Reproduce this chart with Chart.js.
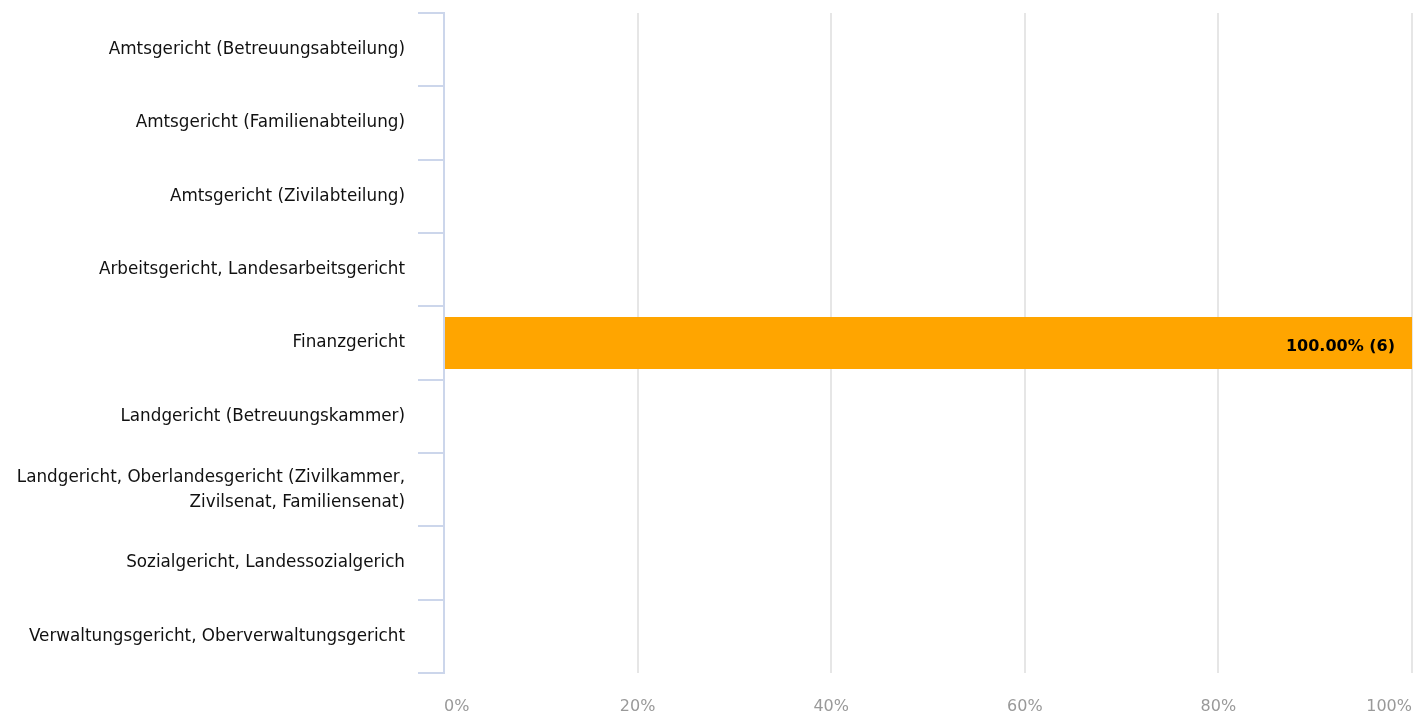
<!DOCTYPE html>
<html>
<head>
<meta charset="utf-8">
<script src="https://cdn.jsdelivr.net/npm/chart.js@4/dist/chart.umd.min.js"></script>
<style>
  html, body { margin: 0; padding: 0; background: #fff; }
  #wrap { width: 1414px; height: 715px; }
</style>
</head>
<body>
<div id="wrap"><canvas id="courtChart"></canvas></div>
<script>
const categories = [
  'Amtsgericht (Betreuungsabteilung)',
  'Amtsgericht (Familienabteilung)',
  'Amtsgericht (Zivilabteilung)',
  'Arbeitsgericht, Landesarbeitsgericht',
  'Finanzgericht',
  'Landgericht (Betreuungskammer)',
  ['Landgericht, Oberlandesgericht (Zivilkammer,', 'Zivilsenat, Familiensenat)'],
  'Sozialgericht, Landessozialgerich',
  'Verwaltungsgericht, Oberverwaltungsgericht'
];
const counts = [0, 0, 0, 0, 6, 0, 0, 0, 0];
const percents = [0, 0, 0, 0, 100, 0, 0, 0, 0];
const xTicks = [0, 20, 40, 60, 80, 100];

const FONT = 'DejaVu Sans';

// draws "100.00% (6)" inside the end of each non-empty bar
const barLabels = {
  id: 'barLabels',
  afterDatasetsDraw(chart) {
    const ctx = chart.ctx;
    const meta = chart.getDatasetMeta(0);
    ctx.save();
    ctx.font = 'bold 16px "' + FONT + '"';
    ctx.fillStyle = '#000';
    ctx.textAlign = 'right';
    ctx.textBaseline = 'middle';
    meta.data.forEach((bar, i) => {
      if (!percents[i]) return;
      ctx.fillText(percents[i].toFixed(2) + '% (' + counts[i] + ')', bar.x - 17, bar.y + 4);
    });
    ctx.restore();
  }
};

new Chart(document.getElementById('courtChart'), {
  type: 'bar',
  data: {
    labels: categories,
    datasets: [{
      data: percents,
      backgroundColor: '#ffa500',
      borderWidth: 0,
      barPercentage: 0.71,
      categoryPercentage: 1
    }]
  },
  options: {
    indexAxis: 'y',
    responsive: true,
    maintainAspectRatio: false,
    animation: false,
    layout: { padding: { top: 13, left: 0, right: 2, bottom: 0 } },
    plugins: {
      legend: { display: false },
      tooltip: { enabled: false }
    },
    scales: {
      x: {
        min: 0,
        max: 100,
        afterBuildTicks: (scale) => { scale.ticks = xTicks.map(v => ({ value: v })); },
        afterFit: (scale) => {
          scale.height = 42;
          scale.paddingLeft = 0;
          scale.paddingRight = 0;
        },
        border: { display: false },
        grid: { color: '#e6e6e6', lineWidth: 2, drawTicks: false },
        ticks: {
          padding: 24,
          align: 'inner',
          color: '#999',
          font: { family: FONT, size: 16 },
          callback: (v) => v + '%'
        }
      },
      y: {
        afterFit: (scale) => {
          scale.width = 444;
          scale.paddingTop = 0;
          scale.paddingBottom = 0;
        },
        border: { display: true, color: '#ccd6eb', width: 2 },
        grid: {
          offset: true,
          drawOnChartArea: false,
          drawTicks: true,
          tickLength: 26,
          color: '#ccd6eb',
          lineWidth: 2
        },
        ticks: {
          padding: 13,
          color: '#111',
          font: { family: FONT, size: 16.8, lineHeight: 1.49 }
        }
      }
    }
  },
  plugins: [barLabels]
});
</script>
</body>
</html>
